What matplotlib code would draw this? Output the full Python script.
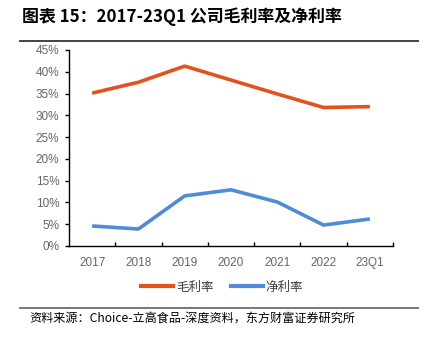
import matplotlib
matplotlib.use("Agg")
import matplotlib.pyplot as plt
from matplotlib.ticker import PercentFormatter
from matplotlib.lines import Line2D

plt.rcParams['font.family'] = ['Noto Sans CJK SC', 'DejaVu Sans']

years = ['2017', '2018', '2019', '2020', '2021', '2022', '23Q1']
gross_margin = [35.1, 37.6, 41.3, 38.1, 34.9, 31.8, 32.0]
net_margin = [4.6, 3.9, 11.5, 12.9, 10.1, 4.8, 6.2]

orange = '#E2511E'
blue = '#4F8BD6'

fig = plt.figure(figsize=(4.23, 3.45), dpi=100)
W, H = 423, 345
ax = fig.add_axes([69 / W, 1 - 246 / H, (393 - 69) / W, (246 - 50) / H])

x = range(len(years))
ax.plot(x, gross_margin, color=orange, lw=2.6, solid_capstyle='butt')
ax.plot(x, net_margin, color=blue, lw=2.6, solid_capstyle='butt')

ax.set_xlim(-0.5, len(years) - 0.5)
ax.set_ylim(0, 45)
ax.set_yticks(range(0, 46, 5))
ax.yaxis.set_major_formatter(PercentFormatter(decimals=0))
ax.set_xticks([i + 0.5 for i in range(len(years))])
ax.set_xticklabels([])
for i, lab in enumerate(years):
    ax.text(i, -2.6, lab, ha='center', va='top', fontsize=8.5, color='#666666',
            family=['Liberation Sans', 'DejaVu Sans'])
for lab in ax.get_yticklabels():
    lab.set_family(['Liberation Sans', 'DejaVu Sans'])
ax.tick_params(axis='y', labelsize=8.5, labelcolor='#666666', length=3, width=1, direction='out', pad=4)
ax.tick_params(axis='x', length=3, width=1, direction='in')
ax.spines['top'].set_visible(False)
ax.spines['right'].set_visible(False)
ax.spines['left'].set_color('black')
ax.spines['bottom'].set_color('black')
ax.spines['left'].set_linewidth(1)
ax.spines['bottom'].set_linewidth(1)

handles = [Line2D([], [], color=orange, lw=3), Line2D([], [], color=blue, lw=3)]
fig.legend(handles, ['毛利率', '净利率'], loc='center', bbox_to_anchor=(222 / W, 1 - 287 / H),
           ncol=2, frameon=False, fontsize=9, handlelength=2.6, handletextpad=0.2,
           columnspacing=1.4, labelcolor='#404040')

fig.text(22 / W, 1 - 17 / H, '图表 15：2017-23Q1 公司毛利率及净利率', fontsize=12.2,
         fontweight='bold', va='center', ha='left', color='black')
fig.add_artist(Line2D([20 / W, 418 / W], [1 - 41 / H, 1 - 41 / H], color='#444444', lw=1.4))
fig.add_artist(Line2D([20 / W, 418 / W], [1 - 308 / H, 1 - 308 / H], color='#777777', lw=1.4))
fig.text(29 / W, 1 - 318 / H, '资料来源：Choice-立高食品-深度资料，东方财富证券研究所', fontsize=8.7,
         va='center', ha='left', color='black')

fig.savefig('out.png', dpi=100)
